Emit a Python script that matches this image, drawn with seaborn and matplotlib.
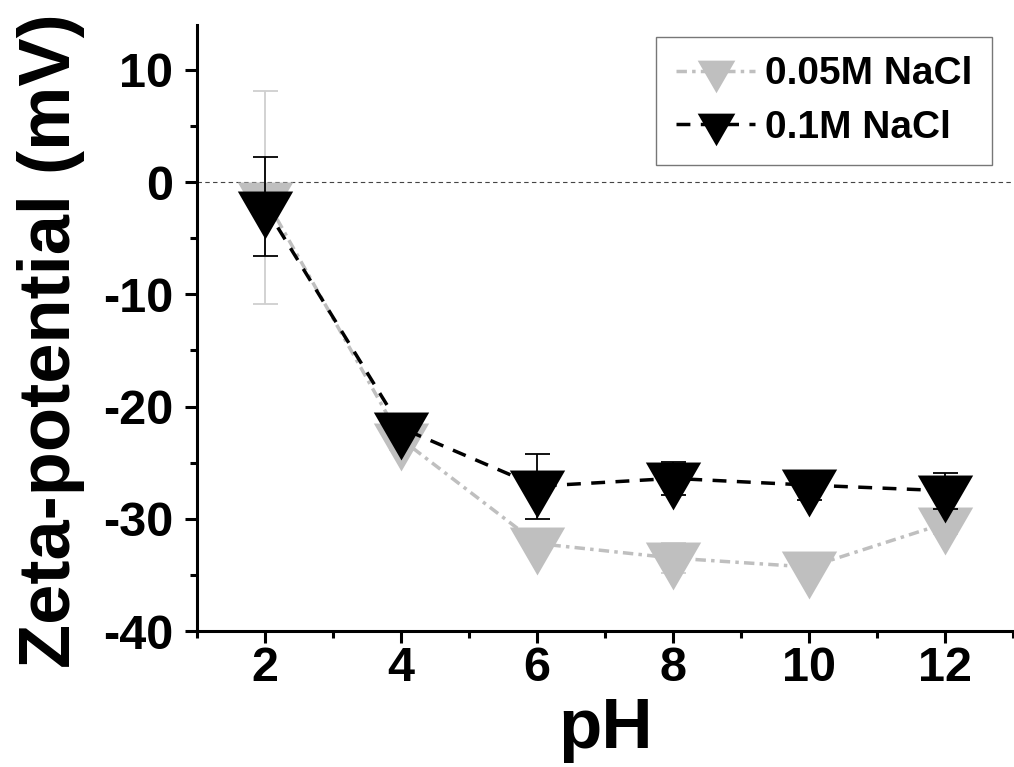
import numpy as np
import pandas as pd
import matplotlib
matplotlib.use("Agg")
import matplotlib.pyplot as plt
from matplotlib.ticker import MultipleLocator
import seaborn as sns

# === data ===
ph = [2, 4, 6, 8, 10, 12]
zeta_005 = [-1.4, -22.9, -32.2, -33.5, -34.3, -30.4]
err_005 = [9.5, 1.0, 0.5, 1.3, 0.5, 1.0]
zeta_01 = [-2.2, -21.9, -27.1, -26.4, -27.0, -27.5]
err_01 = [4.4, 0.8, 2.9, 1.5, 1.3, 1.6]
labels = ["0.05M NaCl", "0.1M NaCl"]

df = pd.DataFrame({
    "pH": ph * 2,
    "zeta": zeta_005 + zeta_01,
    "err": err_005 + err_01,
    "series": [labels[0]] * len(ph) + [labels[1]] * len(ph),
})

sns.set_style("ticks")
plt.rcParams["font.family"] = ["Liberation Sans", "DejaVu Sans"]
plt.rcParams["font.weight"] = "bold"
plt.rcParams["axes.unicode_minus"] = False
for k in ["text.color", "axes.labelcolor", "xtick.color", "ytick.color", "axes.edgecolor"]:
    plt.rcParams[k] = "black"

# equilateral down-triangle, centroid at origin (like Origin)
tri = [(-0.5, 0.2887), (0.5, 0.2887), (0.0, -0.5774), (-0.5, 0.2887)]

fig = plt.figure(figsize=(10.14, 7.67), dpi=100)
ax = fig.add_axes([0.1943, 0.1773, 0.805, 0.7901])

ax.axhline(0, color="#444444", lw=0.8, ls=(0, (4, 3)), zorder=1)

gray = "#bfbfbf"
styles = {
    labels[0]: dict(color=gray, linestyle=(0, (3, 1.5, 1, 1.5)), zorder=3),
    labels[1]: dict(color="black", linestyle=(0, (4, 3)), zorder=5),
}

for lab in labels:
    sub = df[df["series"] == lab]
    st = styles[lab]
    sns.lineplot(data=sub, x="pH", y="zeta", ax=ax, label=lab,
                 color=st["color"], linestyle=st["linestyle"], lw=2.5,
                 marker=tri, markersize=46, markeredgewidth=0,
                 zorder=st["zorder"])

# error bars: gray ones behind the markers, black ones on top
sub = df[df["series"] == labels[0]]
ax.errorbar(sub["pH"], sub["zeta"], yerr=sub["err"], fmt="none",
            ecolor="#cfcfcf", elinewidth=1.3, capsize=9, capthick=1.3, zorder=2)
sub = df[df["series"] == labels[1]]
ax.errorbar(sub["pH"], sub["zeta"], yerr=sub["err"], fmt="none",
            ecolor="black", elinewidth=1.3, capsize=9, capthick=1.3, zorder=6)

ax.set_xlim(1, 13)
ax.set_ylim(-40, 14)
ax.xaxis.set_major_locator(MultipleLocator(2))
ax.xaxis.set_minor_locator(MultipleLocator(1))
ax.yaxis.set_major_locator(MultipleLocator(10))
ax.yaxis.set_minor_locator(MultipleLocator(5))
ax.set_xticks([2, 4, 6, 8, 10, 12])

sns.despine(ax=ax)
for s in ["left", "bottom"]:
    ax.spines[s].set_linewidth(2.2)
ax.tick_params(which="major", length=8.5, width=2.2, labelsize=35)
ax.tick_params(which="minor", length=5, width=2.2)
ax.tick_params(axis="x", which="major", pad=2)
ax.tick_params(axis="y", which="major", pad=8.5)
for t in ax.get_xticklabels() + ax.get_yticklabels():
    t.set_fontweight("bold")

ax.set_xlabel("pH", fontsize=51, fontweight="bold")
ax.set_ylabel("Zeta-potential (mV)", fontsize=52, fontweight="bold")
ax.xaxis.set_label_coords(0.5, -0.109)
ax.yaxis.set_label_coords(-0.137, 0.479)

leg = ax.legend(loc="upper right", bbox_to_anchor=(992 / 1014, 1 - 37 / 767),
                bbox_transform=fig.transFigure, borderaxespad=0,
                fontsize=28, frameon=True, fancybox=False, markerscale=0.68,
                handlelength=2.05, handletextpad=0.25, labelspacing=0.45,
                borderpad=0.5)
leg.get_frame().set_edgecolor("#555555")
leg.get_frame().set_linewidth(1.0)
for t in leg.get_texts():
    t.set_fontweight("bold")

plt.savefig("out.png", dpi=100)
plt.close()
